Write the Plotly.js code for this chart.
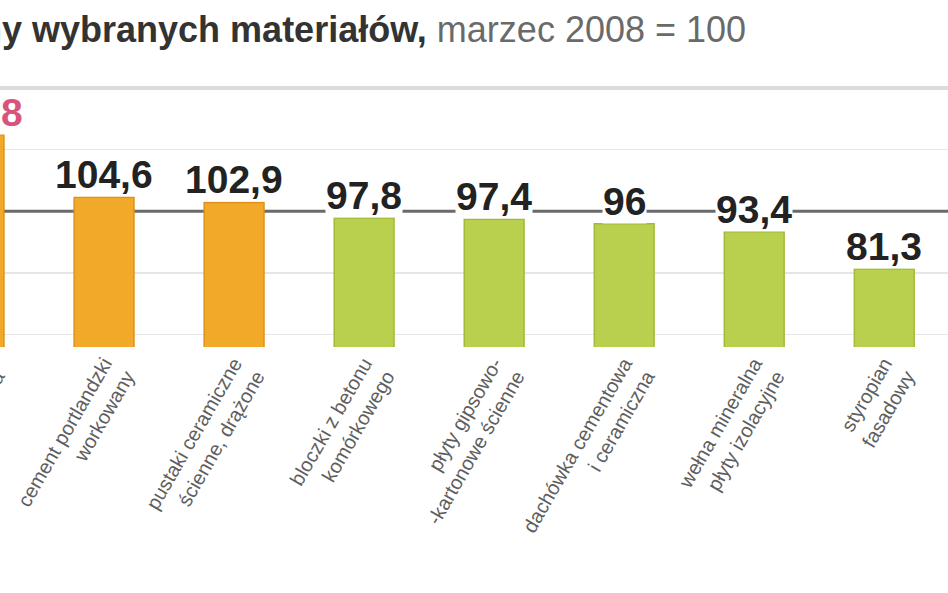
<!DOCTYPE html>
<html>
<head>
<meta charset="utf-8">
<script src="https://cdn.plot.ly/plotly-3.0.1.min.js"></script>
<style>
  body { margin: 0; overflow: hidden; background: #fff; }
  #chart { position: absolute; left: -130px; top: 0; width: 1208px; height: 593px; }
</style>
</head>
<body>
<div id="chart"></div>
<script>
// ceny wybranych materiałów, indeks marzec 2008 = 100
const materials = [
    "stal zbrojeniowa<br>żebrowana",
    "cement portlandzki<br>workowany",
    "pustaki ceramiczne<br>ścienne, drążone",
    "bloczki z betonu<br>komórkowego",
    "płyty gipsowo-<br>-kartonowe ścienne",
    "dachówka cementowa<br>i ceramiczna",
    "wełna mineralna<br>płyty izolacyjne",
    "styropian<br>fasadowy",
    "rury PVC<br>kanalizacyjne"
];
const indexValues = [124.8, 104.6, 102.9, 97.8, 97.4, 96, 93.4, 81.3, 79.5];
const gridValues = [60, 80, 120, 140];
const baseLevel = 100;

const orange = "#f2a92a";
const orangeEdge = "#dc9217";
const green = "#b9cf4e";
const greenEdge = "#a2ba38";

const chartDiv = document.getElementById("chart");

const positions = materials.map((m, i) => i);
const barColors = indexValues.map(v => v > baseLevel ? orange : green);
const edgeColors = indexValues.map(v => v > baseLevel ? orangeEdge : greenEdge);

const formatPl = (num) => String(num).replace(".", ",");

const valueLabels = indexValues.map((v, i) => ({
    x: positions[i],
    y: v,
    xref: "x",
    yref: "y",
    text: "<b>" + formatPl(v) + "</b>",
    showarrow: false,
    yanchor: "bottom",
    yshift: 0,
    bgcolor: "#ffffff",
    borderpad: 0,
    font: {
        family: "Liberation Sans, Arial, sans-serif",
        size: 39,
        color: i === 0 ? "#d9547a" : "#222222"
    }
}));

const trace = {
    x: positions,
    y: indexValues,
    type: "bar",
    width: 0.46,
    marker: {
        color: barColors,
        line: { color: edgeColors, width: 1.5 }
    },
    hoverinfo: "skip"
};

const layout = {
    width: 1208,
    height: 593,
    margin: { l: 0, r: 0, t: 88, b: 246 },
    paper_bgcolor: "#ffffff",
    plot_bgcolor: "#ffffff",
    showlegend: false,
    xaxis: {
        range: [-0.8, 8.49],
        tickmode: "array",
        tickvals: positions,
        ticktext: materials,
        tickangle: -60,
        ticks: "",
        showgrid: false,
        zeroline: false,
        showline: false,
        tickfont: {
            family: "Liberation Sans, Arial, sans-serif",
            size: 20,
            color: "#5e5e5e"
        }
    },
    yaxis: {
        range: [56, 140],
        tickmode: "array",
        tickvals: gridValues,
        showticklabels: false,
        gridcolor: "#e6e6e6",
        gridwidth: 1.5,
        zeroline: false,
        showline: false
    },
    shapes: [
        {
            type: "line", xref: "paper", yref: "y",
            x0: 0, x1: 1, y0: baseLevel, y1: baseLevel,
            line: { color: "#6a6a6a", width: 3 },
            layer: "below"
        },
        {
            type: "line", xref: "paper", yref: "paper",
            x0: 0, x1: 1, y0: 1, y1: 1,
            line: { color: "#dcdcdc", width: 4 },
            layer: "below"
        }
    ],
    annotations: [
        {
            xref: "paper", yref: "paper",
            x: 62 / 1208, y: 1.224,
            xanchor: "left", yanchor: "middle",
            showarrow: false,
            text: "<b>Ceny wybranych materiałów,</b> <span style='color:#6a6a6a'>marzec 2008 = 100</span>",
            font: {
                family: "Liberation Sans, Arial, sans-serif",
                size: 36,
                color: "#333333"
            }
        }
    ].concat(valueLabels)
};

const config = { staticPlot: true };

Plotly.newPlot(chartDiv, [trace], layout, config);
</script>
</body>
</html>
